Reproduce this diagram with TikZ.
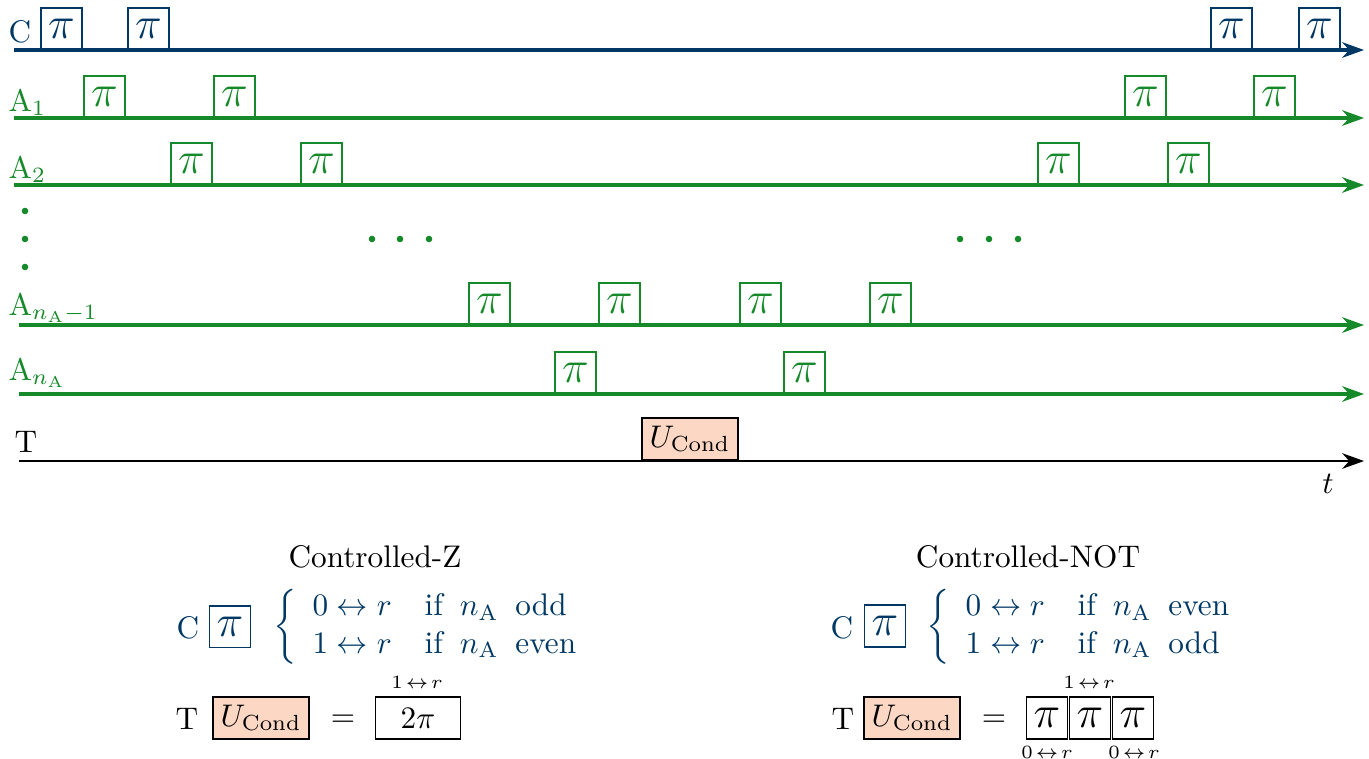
\documentclass[tikz,border=0pt]{standalone}
\usepackage{amsmath}
\usetikzlibrary{arrows.meta}
\definecolor{cblue}{RGB}{0,56,101}
\definecolor{agreen}{RGB}{22,138,42}
\definecolor{ufill}{RGB}{252,215,196}

\begin{document}
\begin{tikzpicture}[x=0.32pt,y=-0.32pt,
  axis/.style={line width=1pt,-{Stealth[length=7pt,width=5pt]}},
  taxis/.style={line width=0.7pt,-{Stealth[length=7pt,width=5pt]}},
  pibox/.style={draw,fill=white,line width=0.6pt,minimum width=13.1pt,minimum height=13.1pt,
                inner sep=0pt,anchor=south west,font=\fontsize{13.5}{15}\selectfont},
  cpi/.style={pibox,draw=cblue,text=cblue},
  api/.style={pibox,draw=agreen,text=agreen},
  bpi/.style={draw,line width=0.6pt,minimum width=13.1pt,minimum height=13.4pt,inner sep=0pt,
              font=\fontsize{13.5}{15}\selectfont},
  ubox/.style={draw=black,fill=ufill,line width=0.6pt,minimum width=30.7pt,minimum height=13.4pt,inner sep=0pt},
  lbl/.style={anchor=base west,inner sep=0pt},
  tinylbl/.style={inner sep=0pt,font=\fontsize{8}{9}\selectfont},
  gdot/.style={circle,fill=agreen,inner sep=0pt,minimum size=2.1pt}]

\useasboundingbox (0,0) rectangle (1369,758);

% ---------------- control qubit C ----------------
\coordinate (c0) at (14,50); \coordinate (c1) at (1364,50);
\draw[axis,cblue] (c0) -- (c1);
\node[lbl,text=cblue] (cl) at (8,42) {C};
\node[cpi] (cp1) at (40,50) {$\pi$};
\node[cpi] (cp2) at (127,50) {$\pi$};
\node[cpi] (cp3) at (1210,50) {$\pi$};
\node[cpi] (cp4) at (1298,50) {$\pi$};

% ---------------- ancillas ----------------
\coordinate (a10) at (14,118); \coordinate (a11) at (1364,118);
\draw[axis,agreen] (a10) -- (a11);
\node[lbl,text=agreen] (a1l) at (8,111) {A$_1$};
\node[api] (a1p1) at (83,118) {$\pi$};
\node[api] (a1p2) at (213,118) {$\pi$};
\node[api] (a1p3) at (1124,118) {$\pi$};
\node[api] (a1p4) at (1253,118) {$\pi$};

\coordinate (a20) at (14,185); \coordinate (a21) at (1364,185);
\draw[axis,agreen] (a20) -- (a21);
\node[lbl,text=agreen] (a2l) at (8,178) {A$_2$};
\node[api] (a2p1) at (170,185) {$\pi$};
\node[api] (a2p2) at (300,185) {$\pi$};
\node[api] (a2p3) at (1037,185) {$\pi$};
\node[api] (a2p4) at (1167,185) {$\pi$};

% ellipsis dots
\node[gdot] (v1) at (25,211) {};
\node[gdot] (v2) at (25,239) {};
\node[gdot] (v3) at (25,267) {};
\node[gdot] (h1) at (372,239) {};
\node[gdot] (h2) at (400,239) {};
\node[gdot] (h3) at (429,239) {};
\node[gdot] (h4) at (960,239) {};
\node[gdot] (h5) at (989,239) {};
\node[gdot] (h6) at (1018,239) {};

\coordinate (am0) at (19,325); \coordinate (am1) at (1364,325);
\draw[axis,agreen] (am0) -- (am1);
\node[lbl,text=agreen] (aml) at (8,315) {A$_{n_\mathrm{A}-1}$};
\node[api] (amp1) at (468,325) {$\pi$};
\node[api] (amp2) at (598,325) {$\pi$};
\node[api] (amp3) at (739,325) {$\pi$};
\node[api] (amp4) at (869,325) {$\pi$};

\coordinate (an0) at (19,394); \coordinate (an1) at (1364,394);
\draw[axis,agreen] (an0) -- (an1);
\node[lbl,text=agreen] (anl) at (8,380) {A$_{n_\mathrm{A}}$};
\node[api] (anp1) at (554,394) {$\pi$};
\node[api] (anp2) at (783,394) {$\pi$};

% ---------------- target T ----------------
\coordinate (t0) at (19,461); \coordinate (t1) at (1364,461);
\draw[taxis,black] (t0) -- (t1);
\node[lbl] (tl) at (14,452) {T};
\node[ubox,anchor=south west] (tu) at (641,461) {$U_\text{Cond}$};
\node[anchor=base,inner sep=0pt] (tt) at (1328,493) {$t$};

% ---------------- Controlled-Z ----------------
\node[anchor=base,inner sep=0pt] (zt) at (375,567) {Controlled-Z};
\node[anchor=base,inner sep=0pt,text=cblue] (zc) at (188,638) {C};
\node[bpi,draw=cblue,text=cblue] (zp) at (230,626.5) {$\pi$};
\node[anchor=west,inner sep=0pt,text=cblue] (zcase) at (273,627)
  {$\left\{\begin{array}{l@{\hspace{10.5pt}}l@{\hspace{5.4pt}}l@{\hspace{5.4pt}}l}
     0\leftrightarrow r & \text{if} & n_\mathrm{A} & \text{odd}\\
     1\leftrightarrow r & \text{if} & n_\mathrm{A} & \text{even}
   \end{array}\right.$};
\node[anchor=base,inner sep=0pt] (zT) at (187,729) {T};
\node[ubox] (zu) at (261,718) {$U_\text{Cond}$};
\node[inner sep=0pt] (zeq) at (343,721) {$=$};
\node[draw,line width=0.6pt,minimum width=27.2pt,minimum height=13.4pt,inner sep=0pt] (z2) at (418,718) {$2\pi$};
\node[tinylbl] (z2l) at (417,682) {$\scriptstyle 1\mskip2mu\leftrightarrow\mskip2mu r$};

% ---------------- Controlled-NOT ----------------
\node[anchor=base,inner sep=0pt] (nt) at (1028,567) {Controlled-NOT};
\node[anchor=base,inner sep=0pt,text=cblue] (nc) at (842,638) {C};
\node[bpi,draw=cblue,text=cblue] (np) at (885,626) {$\pi$};
\node[anchor=west,inner sep=0pt,text=cblue] (ncase) at (926,627)
  {$\left\{\begin{array}{l@{\hspace{10.5pt}}l@{\hspace{5.4pt}}l@{\hspace{5.4pt}}l}
     0\leftrightarrow r & \text{if} & n_\mathrm{A} & \text{even}\\
     1\leftrightarrow r & \text{if} & n_\mathrm{A} & \text{odd}
   \end{array}\right.$};
\node[anchor=base,inner sep=0pt] (nT) at (843,729) {T};
\node[ubox] (nu) at (912,718) {$U_\text{Cond}$};
\node[inner sep=0pt] (neq) at (994,721) {$=$};
\node[bpi] (np1) at (1047,718) {$\pi$};
\node[bpi] (np2) at (1090,718) {$\pi$};
\node[bpi] (np3) at (1133,718) {$\pi$};
\node[tinylbl] (np2l) at (1089,682) {$\scriptstyle 1\mskip2mu\leftrightarrow\mskip2mu r$};
\node[tinylbl] (np1l) at (1047,752) {$\scriptstyle 0\mskip2mu\leftrightarrow\mskip2mu r$};
\node[tinylbl] (np3l) at (1134,752) {$\scriptstyle 0\mskip2mu\leftrightarrow\mskip2mu r$};
\end{tikzpicture}
\end{document}
